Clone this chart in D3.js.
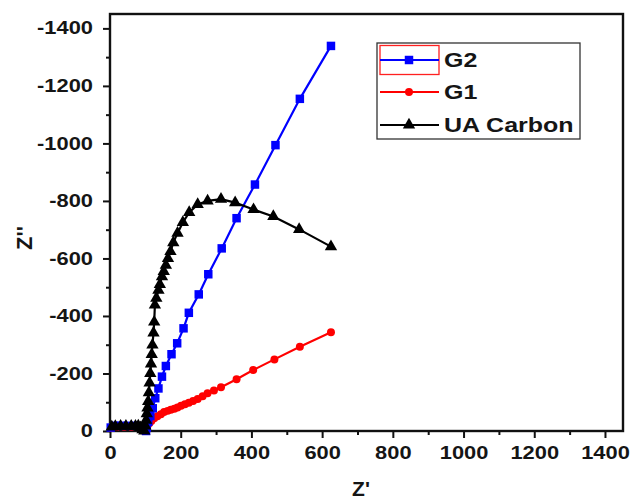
<!DOCTYPE html>
<html>
<head>
<meta charset="utf-8">
<script src="https://cdn.jsdelivr.net/npm/d3@7"></script>
<style>
  html, body { margin: 0; padding: 0; background: #fff; }
  svg { display: block; }
  text { font-family: "Liberation Sans", Arial, sans-serif; font-weight: bold; fill: #151515; }
</style>
</head>
<body>
<svg id="chart" width="631" height="501"></svg>
<script>
// Nyquist data: Z' (real part, ohm) and Z'' (imaginary part, ohm)
const g2Re = [2, 15, 30, 50, 70, 85, 95, 102, 104, 108, 114, 121, 128, 137, 147, 158, 174, 190, 208, 223, 251, 278, 316, 358, 410, 468, 537, 625];
const g2Im = [-12, -18, -18, -18, -18, -15, -5, 0, -12, -32, -52, -79, -114, -148, -189, -226, -267, -305, -357, -411, -475, -545, -635, -740, -857, -994, -1155, -1339];

const g1Re = [3, 20, 40, 60, 80, 92, 97, 100, 102, 106, 111, 117, 125, 134, 144, 153, 163, 172, 182, 191, 201, 212, 223, 235, 248, 262, 276, 294, 314, 358, 405, 465, 537, 625];
const g1Im = [-10, -15, -15, -15, -15, -6, 0, -4, -9, -18, -27, -35, -44, -51, -58, -66, -70, -74, -77, -82, -88, -93, -98, -104, -111, -121, -131, -141, -152, -180, -212, -249, -293, -343];

const uaRe = [5, 15, 30, 45, 60, 72, 80, 86, 92, 97, 100, 102, 104, 106, 108, 110, 112, 114, 116, 118, 120, 123, 125, 127, 131, 137, 141, 147, 152, 158, 164, 171, 179, 191, 206, 224, 248, 276, 314, 354, 406, 462, 535, 625];
const uaIm = [-14, -16, -17, -17, -17, -17, -18, -12, -5, 0, -18, -38, -60, -80, -103, -133, -167, -200, -233, -266, -299, -341, -379, -438, -462, -490, -510, -537, -555, -577, -600, -624, -655, -688, -725, -760, -788, -800, -806, -794, -770, -746, -701, -641];

const seriesNames = ["G2", "G1", "UA Carbon"];
const seriesColors = ["#0000ff", "#ff0000", "#000000"];

const xMajorTicks = [0, 200, 400, 600, 800, 1000, 1200, 1400];
const xMinorTicks = [100, 300, 500, 700, 900, 1100, 1300];
const yMajorTicks = [0, -200, -400, -600, -800, -1000, -1200, -1400];
const yMinorTicks = [-100, -300, -500, -700, -900, -1100, -1300];

const svg = d3.select("#chart");
const plot = { left: 110, right: 623, top: 14, bottom: 431 };
const wide = 1.25; // horizontal stretch of the bold lettering

const x = d3.scaleLinear().domain([0, 1451]).range([plot.left, plot.right]);
const y = d3.scaleLinear().domain([0, -1450]).range([plot.bottom, plot.top]);

// axes: major ticks with labels, minor ticks without
const xAxis = d3.axisBottom(x).tickValues(xMajorTicks).tickSize(7).tickPadding(9).tickFormat(d => String(d));
const xAxisMinor = d3.axisBottom(x).tickValues(xMinorTicks).tickSize(4).tickFormat("");
const yAxis = d3.axisLeft(y).tickValues(yMajorTicks).tickSize(7).tickPadding(10).tickFormat(d => String(d));
const yAxisMinor = d3.axisLeft(y).tickValues(yMinorTicks).tickSize(4).tickFormat("");

function styleAxis(g) {
  g.select(".domain").remove();
  g.selectAll(".tick line").attr("stroke", "#111").attr("stroke-width", 2);
  g.selectAll(".tick text")
    .attr("fill", "#151515")
    .style("font-family", '"Liberation Sans", Arial, sans-serif')
    .style("font-weight", "bold")
    .style("font-size", "17.5px")
    .each(function () {
      const t = d3.select(this);
      const x0 = +t.attr("x") || 0;
      t.attr("x", x0 / wide).attr("transform", `scale(${wide},1)`);
    });
}

svg.append("g").attr("transform", `translate(0,${plot.bottom})`).call(xAxis).call(styleAxis);
svg.append("g").attr("transform", `translate(0,${plot.bottom})`).call(xAxisMinor).call(styleAxis);
svg.append("g").attr("transform", `translate(${plot.left},0)`).call(yAxis).call(styleAxis);
svg.append("g").attr("transform", `translate(${plot.left},0)`).call(yAxisMinor).call(styleAxis);

// plot frame
svg.append("rect")
  .attr("x", plot.left).attr("y", plot.top)
  .attr("width", plot.right - plot.left).attr("height", plot.bottom - plot.top)
  .attr("fill", "none").attr("stroke", "#111").attr("stroke-width", 2.4);

const series = [
  { name: seriesNames[0], color: seriesColors[0], re: g2Re, im: g2Im, symbol: d3.symbolSquare, size: 72 },
  { name: seriesNames[1], color: seriesColors[1], re: g1Re, im: g1Im, symbol: d3.symbolCircle, size: 50 },
  { name: seriesNames[2], color: seriesColors[2], re: uaRe, im: uaIm, symbol: d3.symbolTriangle, size: 66 }
];

const line = d3.line().x(d => x(d[0])).y(d => y(d[1]));

// draw G1 first, then G2, then UA Carbon on top
const drawOrder = [1, 0, 2];
drawOrder.forEach(i => {
  const s = series[i];
  const pts = s.re.map((v, k) => [v, s.im[k]]);
  const g = svg.append("g");
  g.append("path").datum(pts).attr("d", line)
    .attr("fill", "none").attr("stroke", s.color).attr("stroke-width", 2.2);
  g.selectAll("path.m").data(pts).join("path").attr("class", "m")
    .attr("d", d3.symbol().type(s.symbol).size(s.size))
    .attr("transform", d => `translate(${x(d[0])},${y(d[1])})`)
    .attr("fill", s.color);
});

// axis titles
svg.append("text")
  .attr("x", 361).attr("y", 496)
  .attr("text-anchor", "middle")
  .style("font-size", "21px")
  .text("Z'");

svg.append("text")
  .attr("transform", "translate(32,238) rotate(-90)")
  .attr("text-anchor", "middle")
  .style("font-size", "22px")
  .text("Z''");

// legend
const legend = svg.append("g");
legend.append("rect")
  .attr("x", 377).attr("y", 43).attr("width", 203).attr("height", 96)
  .attr("fill", "#fff").attr("stroke", "#333").attr("stroke-width", 1.3);
legend.append("rect")
  .attr("x", 380).attr("y", 45.5).attr("width", 59).attr("height", 29)
  .attr("fill", "none").attr("stroke", "#ff2020").attr("stroke-width", 1.3);

const legendRows = [60, 92, 125];
series.forEach((s, i) => {
  const ly = legendRows[i];
  legend.append("line")
    .attr("x1", 380).attr("x2", 439).attr("y1", ly).attr("y2", ly)
    .attr("stroke", s.color).attr("stroke-width", 2.2);
  legend.append("path")
    .attr("d", d3.symbol().type(s.symbol).size(s.size)())
    .attr("transform", `translate(409,${ly})`)
    .attr("fill", s.color);
  legend.append("text")
    .attr("x", 444 / wide).attr("y", ly + 7.5)
    .attr("transform", `scale(${wide},1)`)
    .style("font-size", "20px")
    .text(s.name);
});
</script>
</body>
</html>
